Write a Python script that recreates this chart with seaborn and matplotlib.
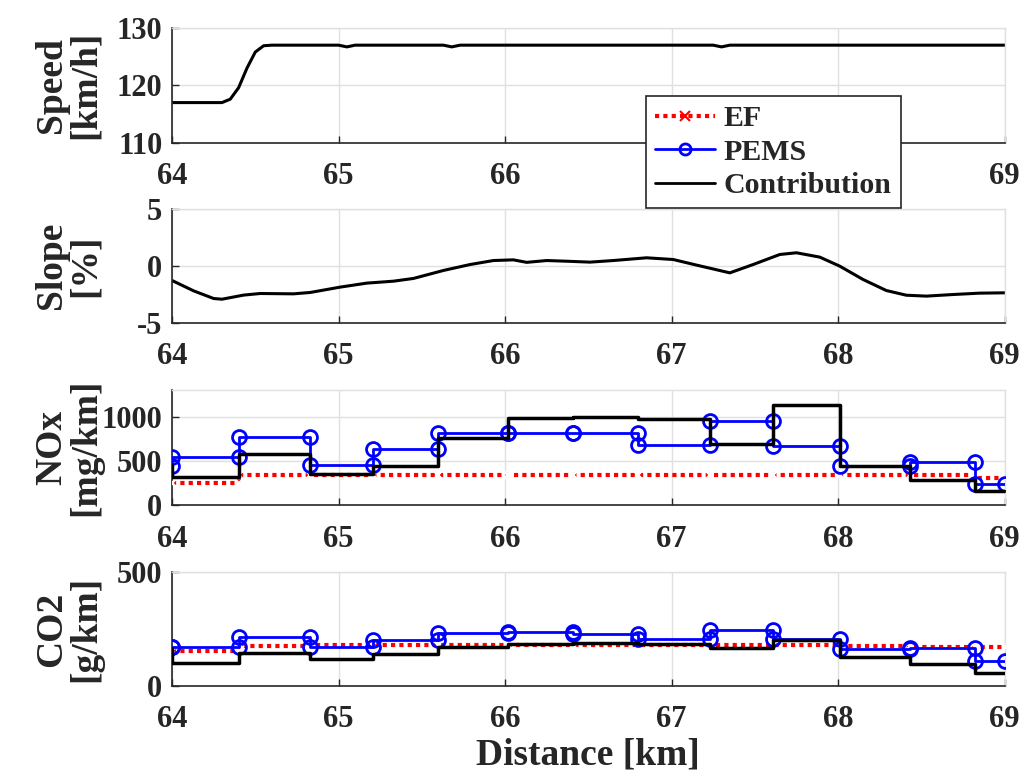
import numpy as np
import pandas as pd
import matplotlib
matplotlib.use("Agg")
import matplotlib.pyplot as plt
import seaborn as sns
from matplotlib.lines import Line2D

# ---------------- data ----------------
# Speed profile [km/h] vs distance [km]
speed_km = [64.0, 64.3, 64.35, 64.4, 64.45, 64.5, 64.55, 64.6, 65.0, 65.05, 65.1,
            65.63, 65.68, 65.73, 67.25, 67.3, 67.35, 69.0]
speed_val = [117.0, 117.0, 117.6, 119.6, 123.0, 125.8, 126.9, 127.0, 127.0, 126.7, 127.0,
             127.0, 126.7, 127.0, 127.0, 126.7, 127.0, 127.0]

# Road slope [%] vs distance [km]
slope_km = [64.0, 64.13, 64.25, 64.30, 64.43, 64.53, 64.73, 64.83, 65.01, 65.17, 65.33,
            65.45, 65.63, 65.79, 65.93, 66.05, 66.13, 66.25, 66.37, 66.51, 66.65, 66.85,
            67.01, 67.15, 67.35, 67.49, 67.65, 67.75, 67.89, 68.01, 68.15, 68.29, 68.41,
            68.53, 68.69, 68.85, 69.0]
slope_val = [-1.29, -2.2, -2.87, -2.93, -2.57, -2.43, -2.46, -2.34, -1.87, -1.52, -1.35,
             -1.11, -0.41, 0.11, 0.46, 0.52, 0.30, 0.46, 0.40, 0.32, 0.46, 0.70,
             0.55, 0.06, -0.62, 0.11, 0.99, 1.14, 0.76, -0.03, -1.2, -2.17, -2.58,
             -2.66, -2.52, -2.4, -2.37]

# Segment boundaries [km]
seg_edges = [64.0, 64.4, 64.83, 65.21, 65.6, 66.02, 66.41, 66.8, 67.23, 67.61,
             68.01, 68.43, 68.82, 69.0]

# NOx [mg/km] per segment (first value = previous segment, cut at 64 km)
nox_ef = [251, 251, 337, 337, 337, 337, 337, 337, 337, 337, 337, 337, 337, 311]
nox_pems = [440, 550, 768, 457, 637, 816, 816, 813, 685, 955, 674, 449, 487, 236]
nox_contrib = [460, 318, 580, 348, 449, 760, 985, 1000, 974, 693, 1135, 438, 288, 161]

# CO2 [g/km] per segment (first value = previous segment)
co2_ef = [155, 155, 175, 180, 180, 180, 178, 178, 178, 178, 180, 175, 170, 170]
co2_pems = [170, 170, 216, 170, 202, 231, 238, 228, 205, 246, 205, 161, 168, 111]
co2_contrib = [165, 102, 146, 117, 140, 172, 183, 187, 184, 165, 200, 126, 96, 56]

xticks = [64, 65, 66, 67, 68, 69]


def step_table(edges, vals):
    xs, ys = [edges[0]], [vals[0]]
    for i in range(len(edges) - 1):
        xs += [edges[i], edges[i + 1]]
        ys += [vals[i + 1], vals[i + 1]]
    return pd.DataFrame({"x": xs, "y": ys})


# ---------------- style ----------------
sns.set_theme(style="white")
plt.rcParams["font.family"] = ["Liberation Serif", "DejaVu Serif"]
plt.rcParams["font.weight"] = "bold"
plt.rcParams["axes.labelweight"] = "bold"

FS_TICK = 22
FS_LABEL = 27
TXT = "#262626"
GRID = "#e0e0e0"

fig = plt.figure(figsize=(10.24, 7.76), dpi=100)
L, R = 0.168, 0.981
boxes = [(0.816, 0.964), (0.584, 0.731), (0.349, 0.497), (0.116, 0.263)]
axes = [fig.add_axes([L, b, R - L, t - b]) for b, t in boxes]


def style_axis(ax, ylim, yticks, ylabel, hgrid=True):
    ax.set_xlim(64, 69)
    ax.set_ylim(*ylim)
    ax.set_xticks(xticks)
    ax.set_yticks(yticks)
    ax.set_xticklabels([str(v) for v in xticks], fontsize=FS_TICK, fontweight="bold", color=TXT)
    ax.set_yticklabels([str(v) for v in yticks], fontsize=FS_TICK, fontweight="bold", color=TXT)
    ax.tick_params(direction="in", length=5, width=1, colors=TXT, left=True, bottom=True)
    ax.tick_params(axis="x", pad=14)
    ax.tick_params(axis="y", pad=7)
    ax.grid(True, axis="x", color=GRID, lw=1)
    ax.grid(hgrid, axis="y", color=GRID, lw=1)
    ax.set_axisbelow(True)
    for s in ["left", "bottom"]:
        ax.spines[s].set_color(TXT)
        ax.spines[s].set_linewidth(1.2)
    for s in ["top", "right"]:
        ax.spines[s].set_color(GRID)
        ax.spines[s].set_linewidth(1.0)
    ax.set_xlabel("")
    ax.set_ylabel(ylabel, fontsize=FS_LABEL, fontweight="bold", color=TXT, linespacing=0.95)


# Speed
ax = axes[0]
sns.lineplot(x=speed_km, y=speed_val, ax=ax, color="black", lw=2.2, sort=False, estimator=None)
style_axis(ax, (110, 130), [110, 120, 130], "Speed\n[km/h]")

# Slope
ax = axes[1]
sns.lineplot(x=slope_km, y=slope_val, ax=ax, color="black", lw=2.2, sort=False, estimator=None)
style_axis(ax, (-5, 5), [-5, 0, 5], "Slope\n[%]")


def emission_panel(ax, ef, pems, contrib):
    d_ef = step_table(seg_edges, ef)
    d_pe = step_table(seg_edges, pems)
    d_co = step_table(seg_edges, contrib)
    sns.lineplot(data=d_ef, x="x", y="y", ax=ax, sort=False, estimator=None,
                 color="red", lw=3, ls=(0, (1, 1)), marker="x", ms=7, mew=1.5, zorder=3)
    sns.lineplot(data=d_pe, x="x", y="y", ax=ax, sort=False, estimator=None,
                 color="blue", lw=2, marker="o", ms=10, mfc="none", mec="blue", mew=2, zorder=4)
    sns.lineplot(data=d_co, x="x", y="y", ax=ax, sort=False, estimator=None,
                 color="black", lw=2.5, zorder=5)


ax = axes[2]
emission_panel(ax, nox_ef, nox_pems, nox_contrib)
style_axis(ax, (0, 1300), [0, 500, 1000], "NOx\n[mg/km]")

ax = axes[3]
emission_panel(ax, co2_ef, co2_pems, co2_contrib)
style_axis(ax, (0, 500), [0, 500], "CO2\n[g/km]", hgrid=False)
ax.set_xlabel("Distance [km]", fontsize=FS_LABEL, fontweight="bold", color=TXT, labelpad=2)

# align y-labels
for ax in axes:
    ax.yaxis.set_label_coords(-0.083, 0.5)

handles = [
    Line2D([], [], color="red", lw=3, ls=(0, (1, 1)), marker="x", ms=7, mew=1.5),
    Line2D([], [], color="blue", lw=2, marker="o", ms=8, mfc="none", mew=2),
    Line2D([], [], color="black", lw=2),
]
leg = fig.legend(handles, ["EF", "PEMS", "Contribution"], loc="upper left",
                 bbox_to_anchor=(0.631, 0.876), fontsize=21.5, frameon=True, fancybox=False,
                 framealpha=1.0, facecolor="white",
                 edgecolor=TXT, handlelength=2.0, borderpad=0.3, labelspacing=0.22,
                 handletextpad=0.3, borderaxespad=0)
leg.set_zorder(10)
leg.get_frame().set_linewidth(1.2)
for t in leg.get_texts():
    t.set_fontweight("bold")
    t.set_color(TXT)

fig.savefig("out.png", dpi=100)
